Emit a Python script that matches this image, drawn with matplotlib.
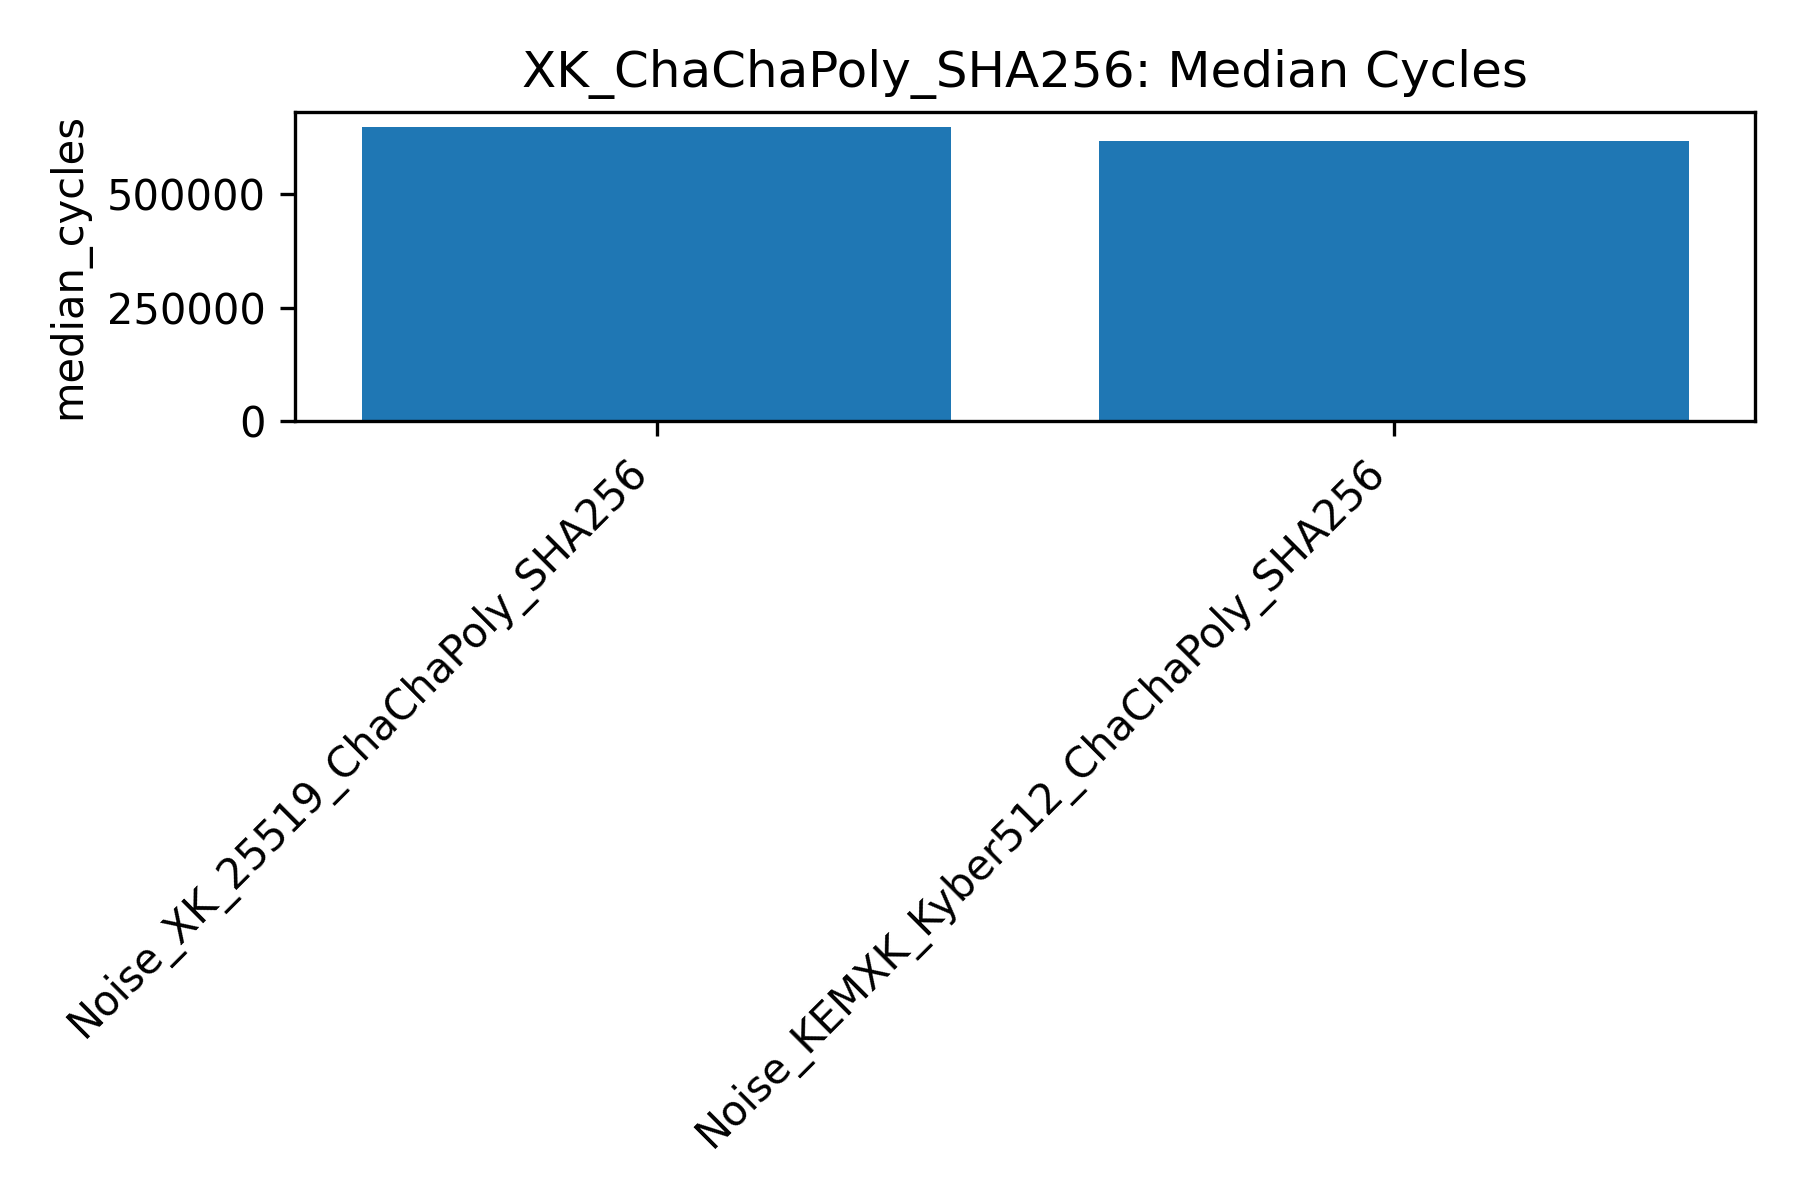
import matplotlib
matplotlib.use("Agg")
import matplotlib.pyplot as plt

categories = ["Noise_XK_25519_ChaChaPoly_SHA256", "Noise_KEMXK_Kyber512_ChaChaPoly_SHA256"]
median_cycles = [649000, 618000]

fig, ax = plt.subplots(figsize=(6, 4))
ax.bar(categories, median_cycles)
ax.set_title("XK_ChaChaPoly_SHA256: Median Cycles")
ax.set_ylabel("median_cycles")
plt.setp(ax.get_xticklabels(), rotation=45, ha="right")
fig.tight_layout()
fig.savefig("out.png", dpi=300)
